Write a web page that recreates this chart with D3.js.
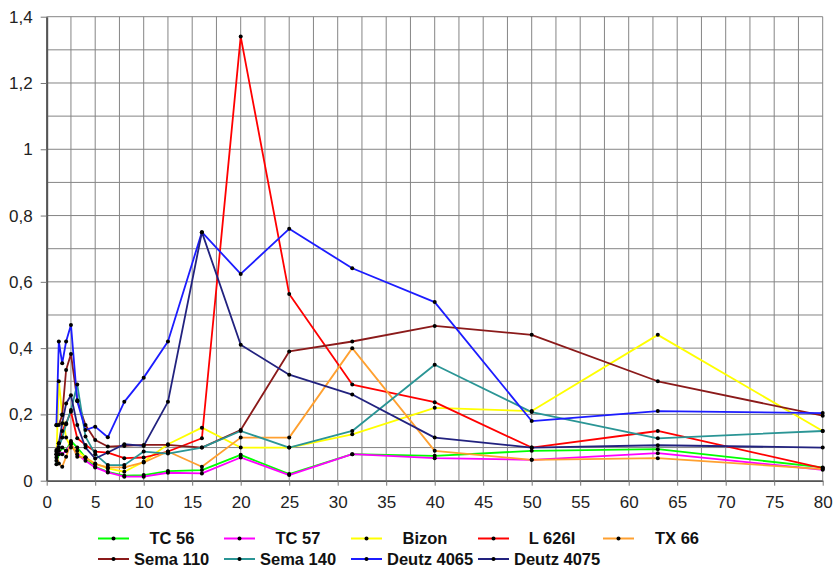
<!DOCTYPE html>
<html>
<head>
<meta charset="utf-8">
<script src="https://cdn.jsdelivr.net/npm/d3@7"></script>
<style>
  html, body { margin: 0; padding: 0; background: #fff; }
  svg { display: block; font-family: "Liberation Sans", Arial, sans-serif; }
</style>
</head>
<body>
<svg id="chart" width="834" height="567"></svg>
<script>
// Frequency bands (Hz) shared by every series
const freqs = [1, 1.25, 1.6, 2, 2.5, 3.15, 4, 5, 6.3, 8, 10, 12.5, 16, 20, 25, 31.5, 40, 50, 63, 80];

const seriesNames = ["TC 56", "TC 57", "Bizon", "L 626I", "TX 66", "Sema 110", "Sema 140", "Deutz 4065", "Deutz 4075"];

const tc56      = [0.05, 0.08, 0.10, 0.09, 0.12, 0.10, 0.07, 0.042, 0.027, 0.015, 0.017, 0.029, 0.032, 0.078, 0.02, 0.08, 0.075, 0.09, 0.095, 0.04];
const tc57      = [0.08, 0.09, 0.08, 0.09, 0.11, 0.08, 0.06, 0.04, 0.025, 0.012, 0.012, 0.024, 0.022, 0.07, 0.017, 0.08, 0.068, 0.063, 0.083, 0.033];
const bizon     = [0.07, 0.30, 0.20, 0.13, 0.10, 0.09, 0.07, 0.052, 0.037, 0.027, 0.057, 0.11, 0.16, 0.10, 0.10, 0.14, 0.22, 0.21, 0.44, 0.15];
const l626i     = [0.088, 0.113, 0.15, 0.173, 0.208, 0.128, 0.108, 0.088, 0.085, 0.068, 0.07, 0.088, 0.128, 1.34, 0.563, 0.29, 0.237, 0.10, 0.15, 0.038];
const tx66      = [0.08, 0.052, 0.042, 0.072, 0.115, 0.072, 0.07, 0.05, 0.04, 0.04, 0.055, 0.088, 0.042, 0.13, 0.13, 0.40, 0.09, 0.063, 0.068, 0.035];
const sema110   = [0.168, 0.168, 0.198, 0.334, 0.382, 0.243, 0.168, 0.123, 0.103, 0.105, 0.108, 0.108, 0.10, 0.153, 0.39, 0.42, 0.467, 0.44, 0.30, 0.196];
const sema140   = [0.06, 0.10, 0.13, 0.17, 0.213, 0.29, 0.133, 0.08, 0.047, 0.047, 0.088, 0.082, 0.10, 0.15, 0.10, 0.15, 0.35, 0.207, 0.128, 0.15];
const deutz4065 = [0.167, 0.42, 0.354, 0.42, 0.47, 0.24, 0.153, 0.163, 0.131, 0.238, 0.311, 0.42, 0.75, 0.624, 0.76, 0.641, 0.539, 0.18, 0.21, 0.204];
const deutz4075 = [0.093, 0.113, 0.173, 0.233, 0.258, 0.168, 0.10, 0.067, 0.085, 0.11, 0.105, 0.238, 0.75, 0.41, 0.32, 0.26, 0.13, 0.10, 0.107, 0.10];

const seriesValues = [tc56, tc57, bizon, l626i, tx66, sema110, sema140, deutz4065, deutz4075];
const seriesColors = ["#00ff00", "#ff00ff", "#ffff00", "#ff0000", "#ffa030", "#8b1a1a", "#2a9595", "#1c1cff", "#22227f"];

const xTicks = [0, 5, 10, 15, 20, 25, 30, 35, 40, 45, 50, 55, 60, 65, 70, 75, 80];
const yTicks = [0, 0.2, 0.4, 0.6, 0.8, 1, 1.2, 1.4];

// Plot geometry
const plot = { left: 46.7, top: 16.7, right: 822.7, bottom: 480.7 };

const svg = d3.select("#chart");
const x = d3.scaleLinear().domain([0, 80]).range([plot.left, plot.right]);
const y = d3.scaleLinear().domain([0, 1.4]).range([plot.bottom, plot.top]);

const locale = d3.formatLocale({ decimal: ",", thousands: ".", grouping: [3], currency: ["", ""] });
const fmt = locale.format("~g");

// Grid: verticals every 2.5, horizontals every 0.1
const grid = svg.append("g").attr("stroke", "#858585").attr("stroke-width", 1);
grid.selectAll("line.v").data(d3.range(0, 80.01, 2.5)).join("line")
  .attr("x1", d => x(d)).attr("x2", d => x(d))
  .attr("y1", plot.top).attr("y2", plot.bottom);
grid.selectAll("line.h").data(d3.range(0, 14.01, 1).map(i => i / 10)).join("line")
  .attr("x1", plot.left).attr("x2", plot.right)
  .attr("y1", d => y(d)).attr("y2", d => y(d));

// Axes
const xAxis = svg.append("g")
  .attr("transform", `translate(0,${plot.bottom})`)
  .call(d3.axisBottom(x).tickValues(xTicks).tickFormat(d => d).tickSize(5).tickSizeOuter(0).tickPadding(10));
const yAxis = svg.append("g")
  .attr("transform", `translate(${plot.left},0)`)
  .call(d3.axisLeft(y).tickValues(yTicks).tickFormat(fmt).tickSize(6).tickSizeOuter(0).tickPadding(8));

[xAxis, yAxis].forEach(a => {
  a.selectAll("text").attr("font-size", 17).attr("fill", "#222")
    .attr("font-family", "'Liberation Sans', Arial, sans-serif");
  a.selectAll(".tick line").attr("stroke", "#777");
});
xAxis.select(".domain").attr("stroke", "#555").attr("stroke-width", 1.5);
yAxis.select(".domain").attr("stroke", "#555").attr("stroke-width", 2);

// Series lines and markers
const line = d3.line().x((d, i) => x(freqs[i])).y(d => y(d));
const seriesG = svg.append("g");
seriesValues.forEach((vals, si) => {
  seriesG.append("path")
    .attr("d", line(vals))
    .attr("fill", "none")
    .attr("stroke", seriesColors[si])
    .attr("stroke-width", 1.8)
    .attr("stroke-linejoin", "round");
});
seriesValues.forEach((vals, si) => {
  seriesG.append("g").selectAll("circle").data(vals).join("circle")
    .attr("cx", (d, i) => x(freqs[i]))
    .attr("cy", d => y(d))
    .attr("r", 2)
    .attr("fill", "#000");
});

// Legend: two rows, line sample with marker followed by bold label
const legendCols = [98, 224, 351, 478, 603];
const legend = svg.append("g");
seriesNames.forEach((name, i) => {
  const row = i < 5 ? 0 : 1;
  const col = i < 5 ? i : i - 5;
  const lx = legendCols[col];
  const ly = row === 0 ? 538.5 : 559;
  const g = legend.append("g");
  g.append("line").attr("x1", lx).attr("x2", lx + 31).attr("y1", ly).attr("y2", ly)
    .attr("stroke", seriesColors[i]).attr("stroke-width", 2);
  g.append("circle").attr("cx", lx + 15.5).attr("cy", ly).attr("r", 2).attr("fill", "#000");
  const t = g.append("text")
    .attr("y", ly)
    .attr("dy", "0.36em")
    .attr("font-size", 16.5)
    .attr("font-weight", "bold")
    .attr("fill", "#111")
    .text(name);
  if (row === 0) {
    t.attr("x", lx + 74).attr("text-anchor", "middle");
  } else {
    t.attr("x", lx + 36).attr("text-anchor", "start");
  }
});
</script>
</body>
</html>
